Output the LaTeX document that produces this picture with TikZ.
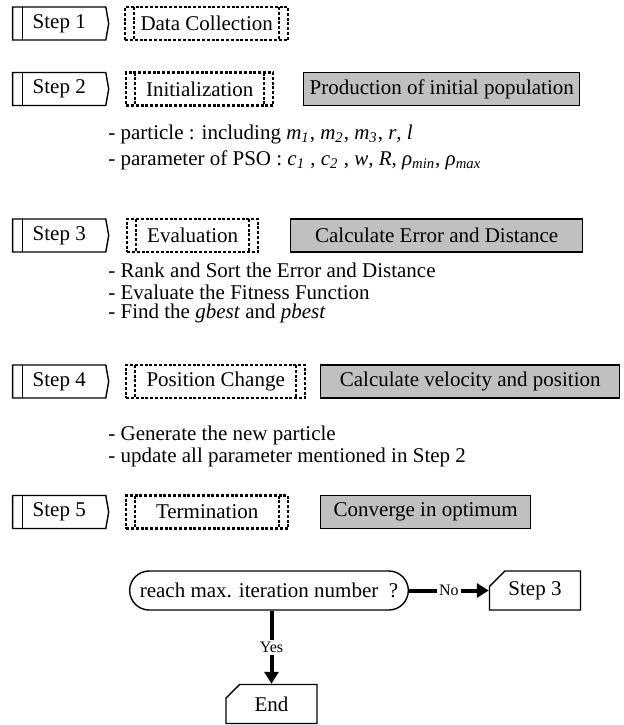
\documentclass[tikz,border=0pt]{standalone}
\usepackage{fontspec}
\setmainfont{Liberation Serif}
\usetikzlibrary{positioning}
\usetikzlibrary{shapes.symbols}
\usetikzlibrary{shapes.misc}
\usetikzlibrary{arrows.meta}
\definecolor{boxgray}{RGB}{192,192,192}

\newcommand{\pvar}[2]{\textit{#1}\textsubscript{\textit{#2}}}

\tikzset{
	steptag/.style={signal, signal to=east, signal from=nowhere, signal pointer angle=160,
		draw, line width=0.7pt, minimum width=48pt, minimum height=16.5pt, inner sep=0pt, anchor=west,
		path picture={\draw[line width=0.7pt] ([xshift=5pt]path picture bounding box.north west) -- ([xshift=5pt]path picture bounding box.south west);}},
	phasebox/.style={draw, line width=1.2pt, dash pattern=on 1.5pt off 0.9pt, minimum height=16.5pt, inner sep=0pt, anchor=west,
		path picture={\draw[line width=1pt, dash pattern=on 1.5pt off 0.9pt]
			([xshift=4.5pt]path picture bounding box.north west) -- ([xshift=4.5pt]path picture bounding box.south west)
			([xshift=-4.5pt]path picture bounding box.north east) -- ([xshift=-4.5pt]path picture bounding box.south east);}},
	taskbox/.style={draw, fill=boxgray, line width=0.7pt, minimum height=16.5pt, inner sep=0pt, anchor=west},
	note/.style={anchor=west, inner sep=0pt},
	endbox/.style={chamfered rectangle, chamfered rectangle corners=north west, chamfered rectangle xsep=9pt,
		draw, line width=0.7pt, minimum width=45.5pt, minimum height=19.5pt, inner sep=0pt},
	flowline/.style={line width=2pt, -{Triangle[length=6pt,width=7pt]}},
	flowlabel/.style={fill=white, inner sep=1pt, font=\fontsize{8}{9}\selectfont}
}

\begin{document}
\begin{tikzpicture}[x=0.5pt,y=-0.5pt,font=\fontsize{10.5}{12.6}\selectfont]
	\useasboundingbox (0,0) rectangle (624,725);
	% step 1
	\node[steptag] (s1) at (12,23.5) {Step 1};
	\node[phasebox, minimum width=81.5pt] (p1) at (124,23.5) {Data Collection};
	% step 2
	\node[steptag] (s2) at (12,89) {Step 2};
	\node[phasebox, minimum width=73.5pt] (p2) at (125,89) {Initialization};
	\node[taskbox, minimum width=138pt] (t2) at (303,89) {Production of initial population};
	\node[note] (n2a) at (108,134) {- particle : including \pvar{m}{1}, \pvar{m}{2}, \pvar{m}{3}, \textit{r}, \textit{l}};
	\node[note] (n2b) at (108,160) {- parameter of PSO : \pvar{c}{1} , \pvar{c}{2} , \textit{w}, \textit{R}, \pvar{ρ}{min}, \pvar{ρ}{max}};
	% step 3
	\node[steptag] (s3) at (12,235.5) {Step 3};
	\node[phasebox, minimum width=65.5pt] (p3) at (126,235.5) {Evaluation};
	\node[taskbox, minimum width=146pt] (t3) at (290,235.5) {Calculate Error and Distance};
	\node[note] (n3a) at (108,270) {- Rank and Sort the Error and Distance};
	\node[note] (n3b) at (108,292) {- Evaluate the Fitness Function};
	\node[note] (n3c) at (108,313) {- Find the \textit{gbest} and \textit{pbest}};
	% step 4
	\node[steptag] (s4) at (12,381.5) {Step 4};
	\node[phasebox, minimum width=89.5pt] (p4) at (125,381.5) {Position Change};
	\node[taskbox, minimum width=149.5pt] (t4) at (320,381.5) {Calculate velocity and position};
	\node[note] (n4a) at (108,435) {- Generate the new particle};
	\node[note] (n4b) at (108,457) {- update all parameter mentioned in Step 2};
	% step 5
	\node[steptag] (s5) at (12,512) {Step 5};
	\node[phasebox, minimum width=81pt] (p5) at (125,512) {Termination};
	\node[taskbox, minimum width=105pt] (t5) at (320,512) {Converge in optimum};
	% loop check
	\node[rounded rectangle, draw, line width=0.7pt, minimum width=146pt, minimum height=19.5pt] (dec) at (269,590.5) {reach max. iteration number\ \ ?};
	\node[endbox] (back) at (535,590.5) {Step 3};
	\node[endbox] (fin) at (271.5,704) {End};
	\draw[flowline] (dec.east) -- node[flowlabel] {No} (back.west);
	\draw[flowline] (fin.north |- dec.south) -- node[flowlabel] {Yes} (fin.north);
\end{tikzpicture}
\end{document}
